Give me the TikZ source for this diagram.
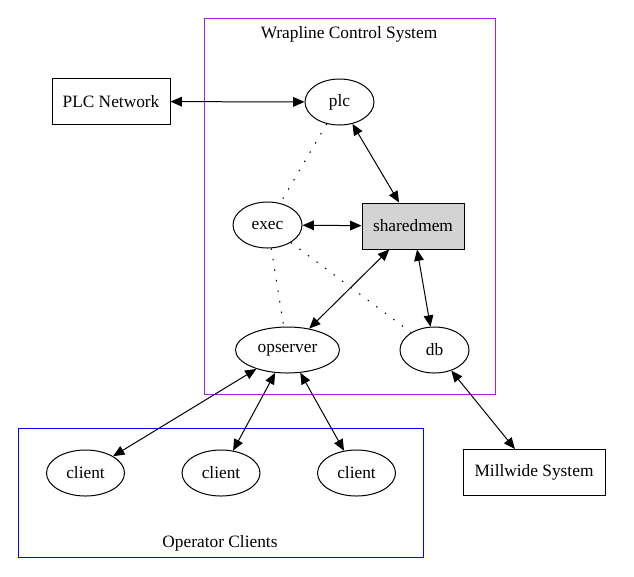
\documentclass[tikz,border=0pt]{standalone}
\usepackage{fontspec}
\setmainfont{Liberation Serif}
\usetikzlibrary{shapes.geometric,arrows.meta}
\definecolor{roxo}{RGB}{160,32,240}
\definecolor{cinza}{RGB}{211,211,211}

\begin{document}
\begin{tikzpicture}[x=0.75pt,y=-0.75pt,line width=0.75pt,
  font=\fontsize{13}{15}\selectfont,
  elipse/.style={draw,ellipse,inner sep=0pt,minimum width=51.75pt,minimum height=34.5pt},
  caixa/.style={draw,rectangle,inner sep=0pt,minimum height=34.5pt},
  seta/.style={{Triangle[length=8.5pt,width=7.2pt]}-{Triangle[length=8.5pt,width=7.2pt]}},
  pontilhado/.style={dash pattern=on 1.1pt off 6.9pt}]

\useasboundingbox (0,0) rectangle (634,576);

% Sistema de controle
\draw[roxo] (204,18) rectangle (495,394);
\node (titsis) at (349,34) {Wrapline Control System};

% Clientes do operador
\draw[blue] (18,428) rectangle (423,557);
\node (titcli) at (220,543) {Operator Clients};

% Nos do sistema
\node[elipse] (plc) at (339.5,102) {plc};
\node[elipse] (exec) at (267.5,225) {exec};
\node[caixa,fill=cinza,minimum width=76.5pt] (shm) at (413,226) {sharedmem};
\node[elipse,minimum width=78pt] (opserver) at (287.5,350) {opserver};
\node[elipse] (db) at (434.5,350) {db};

% Sistemas externos
\node[caixa,minimum width=88.5pt] (plcnet) at (111,101.5) {PLC Network};
\node[caixa,minimum width=106.5pt] (millwide) at (534,472.5) {Millwide System};

% Clientes
\node[elipse,minimum width=58.5pt] (cli1) at (85.5,473) {client};
\node[elipse,minimum width=58.5pt] (cli2) at (221,473) {client};
\node[elipse,minimum width=58.5pt] (cli3) at (356.5,473) {client};

% Ligacoes com setas
\draw[seta] (plcnet) -- (plc);
\draw[seta] (plc) -- (shm);
\draw[seta] (exec) -- (shm);
\draw[seta] (shm) -- (opserver);
\draw[seta] (shm) -- (db);
\draw[seta] (db) -- (millwide);
\draw[seta] (opserver) -- (cli1);
\draw[seta] (opserver) -- (cli2);
\draw[seta] (opserver) -- (cli3);

% Ligacoes pontilhadas
\draw[pontilhado] (plc) -- (exec);
\draw[pontilhado] (exec) -- (opserver);
\draw[pontilhado] (exec) -- (db);

\end{tikzpicture}
\end{document}
